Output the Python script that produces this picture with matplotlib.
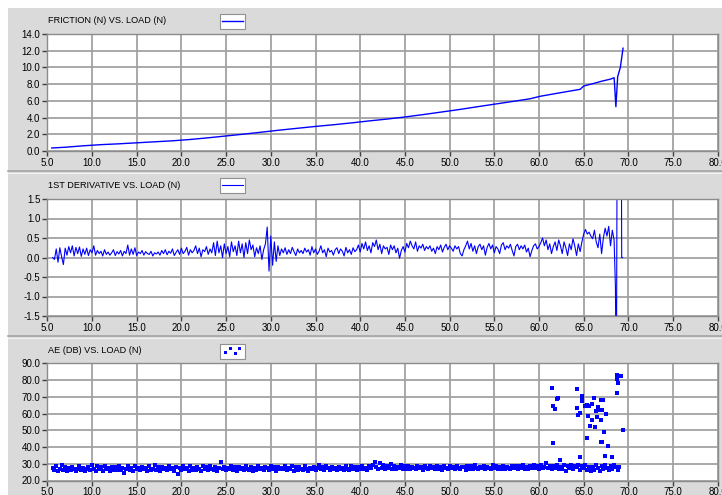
import numpy as np
import matplotlib
matplotlib.use('Agg')
import matplotlib.pyplot as plt
from matplotlib.lines import Line2D
from matplotlib.patches import Rectangle

# friction (N) vs load (N)
friction_load = [5.5, 7, 9, 11, 13, 15, 17, 19, 21, 23, 25, 27, 29, 31, 33, 35, 37, 39, 41, 43,
                 45, 47, 49, 51, 53, 55, 57, 59, 60.15, 62, 64.6, 65, 66, 67, 68, 68.4, 68.45,
                 68.6, 68.8, 69.1, 69.4]
friction_val = [0.36, 0.45, 0.62, 0.76, 0.86, 0.98, 1.1, 1.22, 1.38, 1.58, 1.8, 2.02, 2.26, 2.5,
                2.72, 2.94, 3.14, 3.36, 3.6, 3.82, 4.07, 4.35, 4.65, 4.95, 5.28, 5.6, 5.92, 6.25,
                6.55, 6.9, 7.38, 7.78, 8.05, 8.35, 8.6, 8.77, 8.0, 5.3, 8.9, 10.0, 12.3]

# 1st derivative, sampled every 0.2 N from 5.6 N
deriv_start, deriv_step = 5.6, 0.2
deriv_val = [
    0.0, -0.05, 0.22, -0.12, 0.25, 0.02, -0.18, 0.24, 0.06, 0.28,
    0.12, 0.3, 0.04, 0.26, 0.1, 0.27, 0.03, 0.22, 0.08, 0.24,
    0.05, 0.2, 0.12, 0.3, 0.06, 0.18, 0.1, 0.16, 0.04, 0.2,
    0.08, 0.14, 0.06, 0.12, 0.2, 0.05, 0.15, 0.09, 0.18, 0.04,
    0.16, 0.1, 0.32, 0.06, 0.22, 0.08, 0.25, 0.05, 0.14, 0.1,
    0.18, 0.06, 0.15, 0.1, 0.08, 0.16, 0.04, 0.12, 0.09, 0.14,
    0.06, 0.18, 0.1, 0.2, 0.07, 0.16, 0.11, 0.22, 0.05, 0.13,
    0.2, 0.08, 0.24, 0.1, 0.16, 0.26, 0.06, 0.2, 0.12, 0.18,
    0.3, 0.1, 0.24, 0.02, 0.2, 0.15, 0.28, 0.08, 0.22, 0.12,
    0.38, 0.05, 0.42, 0.12, 0.3, 0.0, 0.35, 0.1, 0.28, 0.02,
    0.4, 0.15, 0.3, 0.05, 0.42, 0.12, 0.35, 0.0, 0.38, 0.1,
    0.45, 0.2, 0.32, 0.02, 0.25, 0.1, 0.3, -0.05, 0.2, 0.35,
    0.78, -0.35, 0.55, -0.2, 0.4, -0.1, 0.3, 0.05, 0.22, 0.12,
    0.25, 0.08, 0.2, 0.1, 0.26, 0.15, 0.05, 0.22, 0.12, 0.18,
    0.1, 0.24, 0.14, 0.2, 0.06, 0.28, 0.12, 0.22, 0.08, 0.16,
    0.3, 0.12, 0.2, 0.02, 0.24, 0.14, 0.18, 0.06, 0.2, 0.25,
    0.1, 0.22, 0.16, 0.04, 0.26, 0.12, 0.2, 0.08, 0.25, 0.15,
    0.2, 0.32, 0.14, 0.36, 0.22, 0.4, 0.18, 0.3, 0.12, 0.38,
    0.28, 0.45, 0.2, 0.34, 0.1, 0.3, 0.22, 0.26, 0.08, 0.32,
    0.2, 0.3, 0.12, 0.24, -0.02, 0.18, 0.28, 0.14, 0.36, 0.25,
    0.42, 0.3, 0.22, 0.4, 0.16, 0.3, 0.24, 0.34, 0.18, 0.28,
    0.22, 0.3, 0.16, 0.24, 0.1, 0.28, 0.2, 0.32, 0.14, 0.26,
    0.34, 0.2, 0.3, 0.24, 0.16, 0.3, 0.22, 0.28, 0.1, 0.04,
    0.2, 0.3, 0.42, 0.22, 0.36, 0.16, 0.3, 0.1, 0.28, 0.34,
    0.2, 0.3, 0.06, 0.26, 0.36, 0.22, 0.32, 0.12, 0.28, 0.22,
    0.1, 0.32, 0.38, 0.2, 0.3, 0.24, 0.34, 0.18, 0.04, 0.28,
    0.34, 0.2, 0.3, 0.22, 0.32, 0.14, 0.24, 0.02, 0.18, 0.3,
    0.35, 0.22, 0.28, 0.38, 0.5, 0.3, 0.45, 0.2, 0.35, 0.1,
    0.28, 0.4, 0.18, 0.45, 0.3, 0.1, 0.4, 0.25, 0.05, 0.35,
    0.2, 0.48, 0.3, 0.05, 0.35, 0.15, 0.4, 0.6, 0.72, 0.6,
    0.65, 0.55, 0.48, 0.7, 0.4, 0.25, 0.6, 0.1, 0.5, 0.75,
    0.55, 0.8, 0.3, 0.7, 0.45,
]
deriv_tail_load = [68.55, 68.65, 68.75, 69.2, 69.25, 69.35]
deriv_tail_val = [-0.77, -4.0, 4.0, 4.0, 0.0, 0.0]

# AE (dB) baseline, sampled every 0.2 N from 5.6 N
ae_start, ae_step = 5.6, 0.2
ae_base = [
    27.5, 26.0, 28.5, 25.5, 27.0, 29.0, 26.5, 28.0, 25.8, 27.5,
    26.2, 28.2, 27.0, 25.6, 26.8, 28.8, 26.0, 27.4, 25.5, 26.6,
    28.0, 26.4, 29.2, 27.0, 25.8, 28.4, 26.6, 27.8, 25.9, 28.6,
    26.8, 27.6, 25.7, 28.2, 26.3, 27.9, 26.0, 28.7, 26.5, 27.3,
    24.2, 26.9, 28.5, 26.2, 27.7, 25.8, 28.9, 26.6, 27.4, 26.0,
    28.3, 26.7, 27.5, 25.6, 28.8, 26.4, 27.1, 29.0, 26.2, 27.8,
    25.9, 28.1, 26.8, 27.5, 26.0, 28.6, 26.7, 27.2, 25.8, 28.0,
    23.8, 27.4, 26.3, 28.4, 26.9, 27.6, 25.7, 28.7, 26.5, 27.3,
    26.1, 28.2, 27.0, 25.9, 28.6, 26.6, 27.8, 26.2, 28.9, 27.1,
    26.4, 28.0, 25.8, 27.6, 30.8, 26.7, 28.3, 26.1, 27.5, 26.9,
    28.4, 26.2, 27.9, 25.9, 28.1, 26.8, 27.3, 26.0, 28.6, 27.0,
    26.5, 28.3, 25.8, 27.7, 26.4, 28.8, 26.9, 27.5, 26.1, 28.0,
    27.2, 26.3, 28.5, 26.7, 27.9, 25.9, 28.2, 26.6, 27.4, 26.8,
    28.7, 26.1, 27.6, 26.9, 28.4, 25.8, 27.8, 26.5, 28.1, 27.0,
    26.3, 28.6, 27.1, 25.9, 27.7, 26.8, 28.3, 26.2, 27.5, 29.0,
    26.6, 27.9, 26.0, 28.5, 27.2, 26.4, 28.0, 26.9, 27.6, 26.1,
    28.2, 26.7, 27.4, 26.0, 28.7, 27.1, 26.5, 28.4, 26.8, 27.8,
    26.3, 28.1, 27.0, 28.9, 26.6, 27.7, 26.2, 28.5, 27.3, 29.2,
    31.2, 28.0, 26.8, 30.5, 27.4, 29.0, 26.9, 28.6, 27.2, 29.6,
    27.0, 28.8, 26.6, 28.2, 27.5, 29.1, 26.8, 28.4, 27.1, 28.9,
    26.7, 28.3, 27.4, 26.9, 28.7, 27.2, 28.0, 26.5, 28.5, 27.6,
    26.9, 28.6, 27.3, 28.1, 26.6, 28.8, 27.0, 27.8, 26.4, 28.4,
    27.5, 26.8, 28.9, 27.2, 28.2, 26.7, 28.6, 27.4, 26.9, 28.3,
    27.8, 26.5, 28.7, 27.1, 28.4, 26.8, 29.0, 27.5, 26.6, 28.1,
    27.3, 28.8, 26.7, 28.3, 27.6, 26.9, 29.1, 27.2, 28.5, 26.8,
    28.2, 27.0, 28.9, 26.6, 28.0, 27.5, 26.9, 28.7, 27.3, 28.4,
    26.8, 28.6, 27.4, 29.2, 27.0, 28.3, 26.7, 28.8, 27.6, 29.0,
    27.2, 28.5, 26.9, 29.3, 27.7, 28.1, 30.2, 27.4, 28.8, 26.6,
    28.9, 27.3, 29.4, 26.8, 28.2, 27.0, 29.1, 25.9, 28.6, 27.5,
    29.0, 26.7, 28.4, 27.8, 29.5, 26.2, 28.9, 27.4, 29.2, 26.5,
    28.3, 25.8, 27.9, 26.4, 29.0, 27.2, 25.7, 28.6, 26.9, 29.3,
    27.5, 26.1, 28.8, 26.6, 29.4, 27.8, 26.3, 28.0,
]
# AE bursts near the end of the test
ae_burst_load = [61.5, 61.6, 61.8, 62.1, 62.0, 61.6, 64.3, 64.8, 64.8, 64.85, 64.2, 64.55,
                 64.4, 65.1, 65.35, 65.6, 65.9, 66.2, 66.9, 67.2, 66.6, 66.4, 66.7, 67.0,
                 67.55, 65.5, 65.9, 66.5, 66.9, 65.7, 66.3, 67.3, 65.4, 66.9, 67.1, 67.7,
                 68.75, 69.2, 68.75, 68.85, 68.75, 69.35, 67.4, 68.2, 64.55, 62.3]
ae_burst_val = [75.4, 64.6, 63.0, 69.0, 68.4, 42.6, 74.8, 70.6, 67.8, 67.2, 63.6, 60.6,
                59.0, 64.6, 64.8, 64.6, 65.4, 69.2, 68.2, 68.2, 64.0, 61.4, 62.0, 62.4,
                60.0, 58.4, 56.4, 57.8, 56.4, 52.8, 52.2, 48.8, 45.6, 43.2, 43.2, 40.8,
                83.2, 82.2, 80.4, 78.0, 72.4, 50.4, 34.8, 33.8, 34.0, 32.4]

titles = ['FRICTION (N) VS. LOAD (N)', '1ST DERIVATIVE VS. LOAD (N)', 'AE (DB) VS. LOAD (N)']
x_ticks = np.arange(5, 81, 5)
y_ticks = [np.arange(0, 15, 2), np.arange(-1.5, 1.6, 0.5), np.arange(20, 91, 10)]

W, H = 722, 495
BLUE = '#0000ff'
BG = '#dadada'

plt.rcParams['font.family'] = ['Liberation Sans', 'DejaVu Sans']

fig = plt.figure(figsize=(W / 100, H / 100), dpi=100, facecolor='white')
# gray panel background (white strip left/top like the screenshot)
fig.patches.append(Rectangle((8 / W, 0), 1, 1 - 8 / H, transform=fig.transFigure,
                             facecolor=BG, edgecolor='none', zorder=-10))
for yy in [171, 336]:
    fig.add_artist(Line2D([8 / W, 1], [1 - yy / H] * 2, color='#a4a4a4', lw=1.2))
    fig.add_artist(Line2D([8 / W, 1], [1 - (yy + 1.5) / H] * 2, color='#f2f2f2', lw=0.8))

left, right = 47.3, 717.8
tops = [34, 199, 363.3]
bots = [151, 316, 480.5]
title_y = [20.5, 185, 350.5]
leg_y = [14, 178, 344]

axes = []
for i in range(3):
    ax = fig.add_axes([left / W, 1 - bots[i] / H, (right - left) / W, (bots[i] - tops[i]) / H])
    ax.set_facecolor('white')
    ax.set_xlim(5, 80)
    ax.set_xticks(x_ticks)
    ax.set_xticklabels(['%.1f' % v for v in x_ticks])
    ax.set_yticks(y_ticks[i])
    ax.set_yticklabels(['%.1f' % v for v in y_ticks[i]])
    ax.set_ylim(y_ticks[i][0], y_ticks[i][-1])
    ax.grid(True, color='#a2a2a2', lw=1.3)
    ax.set_axisbelow(True)
    for s in ax.spines.values():
        s.set_color('#8c8c8c')
        s.set_linewidth(1.0)
    ax.tick_params(direction='out', length=3.5, width=1, color='#404040',
                   labelsize=7, pad=1.5)
    fig.text(48 / W, 1 - title_y[i] / H, titles[i], fontsize=6.6, va='center', ha='left')
    axes.append(ax)

ax1, ax2, ax3 = axes
l1, = ax1.plot(friction_load, friction_val, color=BLUE, lw=1.0)

deriv_load = np.round(deriv_start + deriv_step * np.arange(len(deriv_val)), 2)
d_x = list(deriv_load) + deriv_tail_load
d_y = deriv_val + deriv_tail_val
l2, = ax2.plot(d_x, d_y, color=BLUE, lw=0.8)

ae_load = np.round(ae_start + ae_step * np.arange(len(ae_base)), 2)
ax3.plot(ae_load, ae_base, ls='none', marker='s', ms=2.2, mew=0, color=BLUE)
sc = ax3.scatter(ae_burst_load, ae_burst_val, marker='s', s=5, lw=0, color=BLUE)

# small legend boxes next to titles
for i, h in enumerate([l1, l2, sc]):
    leg = fig.legend(handles=[h], labels=[''], loc='upper left',
                     bbox_to_anchor=(220 / W, 1 - leg_y[i] / H), bbox_transform=fig.transFigure,
                     fontsize=7, handlelength=2.1, handletextpad=0, borderpad=0.25,
                     borderaxespad=0, fancybox=False, framealpha=1,
                     edgecolor='#909090', scatterpoints=4,
                     scatteryoffsets=[0.3, 0.85, 0.15, 0.9])
    leg.get_frame().set_linewidth(0.8)

fig.savefig('out.png', dpi=100, facecolor=fig.get_facecolor())
